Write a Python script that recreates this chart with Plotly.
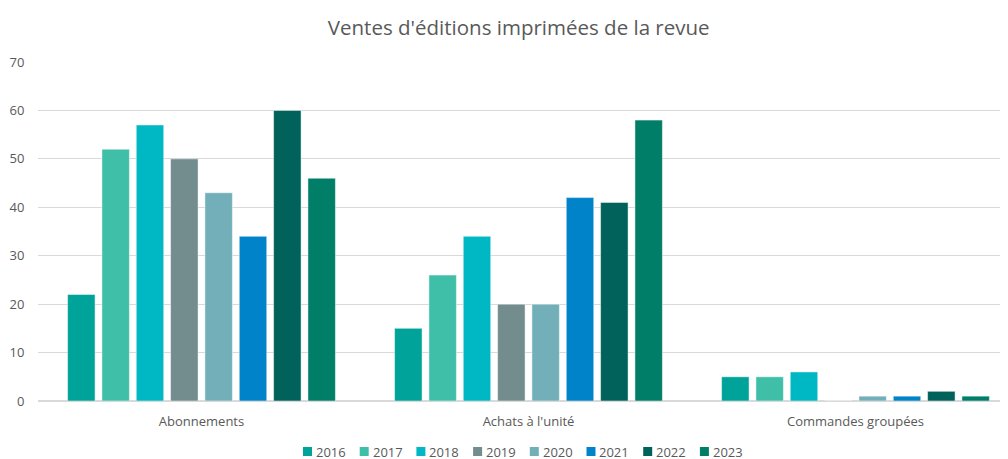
import plotly.graph_objects as go

categories = ["Abonnements", "Achats à l'unité", "Commandes groupées"]
years = ["2016", "2017", "2018", "2019", "2020", "2021", "2022", "2023"]
v2016 = [22, 15, 5]
v2017 = [52, 26, 5]
v2018 = [57, 34, 6]
v2019 = [50, 20, 0]
v2020 = [43, 20, 1]
v2021 = [34, 42, 1]
v2022 = [60, 41, 2]
v2023 = [46, 58, 1]
series = [v2016, v2017, v2018, v2019, v2020, v2021, v2022, v2023]
colors = ["#00A399", "#3FBFA8", "#00B8C4", "#738C8E", "#73AFB8", "#0083C9", "#00625A", "#007E67"]

font_color = "#595959"

fig = go.Figure()
for y, vals, c in zip(years, series, colors):
    fig.add_trace(go.Bar(name=y, x=categories, y=vals, marker_color=c,
                         marker_line=dict(color="rgba(255,255,255,0.6)", width=0.8)))

# geometry of plot area (pixels in figure)
W, H = 1011, 451
L, R, T, B = 30, 0, 54, 58
PW, PH = W - L - R, H - T - B

# compact legend row, built from the years / colors lists
leg_left_px = 265      # left of first square, relative to plot left
leg_step_px = 56.7
sq = 9
leg_y_px = 50.5        # centre below plot bottom
yc = -leg_y_px / PH
for i, (name, c) in enumerate(zip(years, colors)):
    x0 = (leg_left_px + leg_step_px * i) / PW
    fig.add_shape(type="rect", xref="paper", yref="paper",
                  x0=x0, x1=x0 + sq / PW, y0=yc - sq / 2 / PH, y1=yc + sq / 2 / PH,
                  fillcolor=c, line=dict(width=0))
    fig.add_annotation(text=name, xref="paper", yref="paper",
                       x=x0 + (sq + 3) / PW, y=yc, xanchor="left", yanchor="middle",
                       showarrow=False, borderpad=0,
                       font=dict(family="Open Sans", size=13, color=font_color))

fig.update_layout(
    width=W, height=H,
    paper_bgcolor="white", plot_bgcolor="white",
    margin=dict(l=L, r=R, t=T, b=B, autoexpand=False),
    title=dict(text="Ventes d'éditions imprimées de la revue", x=0.49, xanchor="center",
               xref="paper", y=1 - 20 / H, yanchor="middle",
               font=dict(family="Open Sans", size=20.5, color=font_color)),
    barmode="group", bargap=0.16, bargroupgap=0.2,
    font=dict(family="Open Sans", size=13, color=font_color),
    showlegend=False,
)
fig.update_yaxes(range=[0, 70], dtick=10, showgrid=True, gridcolor="#D9D9D9", gridwidth=1,
                 zeroline=True, zerolinecolor="#D9D9D9", showline=False, automargin=False,
                 ticks="outside", ticklen=10, tickcolor="rgba(0,0,0,0)",
                 tickfont=dict(size=13, color=font_color))
fig.update_xaxes(showline=True, linecolor="#D9D9D9", linewidth=1, automargin=False,
                 ticks="outside", ticklen=8, tickcolor="rgba(0,0,0,0)",
                 tickfont=dict(size=13, color=font_color))

fig.write_html("out.html", post_script="document.body.style.overflow='hidden';")
